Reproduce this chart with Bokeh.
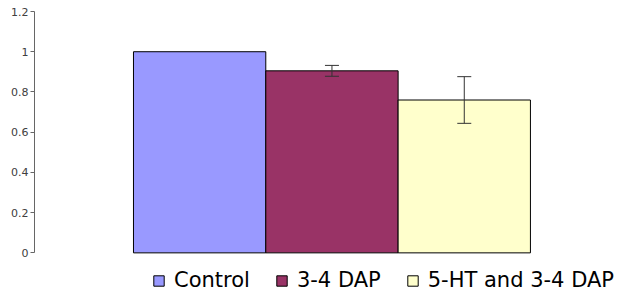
from bokeh.plotting import figure
from bokeh.models import (Range1d, FixedTicker, ColumnDataSource, Whisker, TeeHead,
                          Legend, LegendItem)
from bokeh.embed import file_html
from bokeh.resources import INLINE

categories = ["Control", "3-4 DAP", "5-HT and 3-4 DAP"]
means = [1.0, 0.905, 0.76]
errors = [0.0, 0.027, 0.116]
colors = ["#9999FF", "#993366", "#FFFFCC"]
y_ticks = [0, 0.2, 0.4, 0.6, 0.8, 1, 1.2]
y_tick_labels = ["0", "0.2", "0.4", "0.6", "0.8", "1", "1.2"]

xs = list(range(len(categories)))
src = ColumnDataSource(dict(x=xs, top=means, color=colors, label=categories))

ex = [x for x, e in zip(xs, errors) if e > 0]
eu = [m + e for m, e in zip(means, errors) if e > 0]
el = [m - e for m, e in zip(means, errors) if e > 0]
err_src = ColumnDataSource(dict(x=ex, upper=eu, lower=el))

# frame extends below zero to leave room for the legend under the bars
p = figure(width=617, height=293, output_backend="svg", toolbar_location=None,
           x_range=Range1d(-1.248, 3.158), y_range=Range1d(-0.202, 1.2),
           x_axis_location=None,
           min_border_left=34, min_border_right=0, min_border_top=11,
           min_border_bottom=0)
p.outline_line_color = None
p.xgrid.visible = False
p.ygrid.visible = False

r = p.vbar(x="x", top="top", bottom=0, width=1, fill_color="color",
           line_color="black", line_width=1, source=src)

w = Whisker(source=err_src, base="x", upper="upper", lower="lower",
            dimension="height", line_color="#333333", line_width=1,
            upper_head=TeeHead(size=14, line_color="#333333", line_width=1),
            lower_head=TeeHead(size=14, line_color="#333333", line_width=1))
w.level = "annotation"
p.add_layout(w)

ax = p.yaxis[0]
ax.ticker = FixedTicker(ticks=y_ticks)
ax.bounds = (0, 1.2)
ax.major_label_overrides = dict(zip(y_ticks, y_tick_labels))
ax.minor_tick_line_color = None
ax.major_tick_in = 0
ax.major_tick_out = 4
ax.major_label_standoff = 2
ax.axis_line_color = "#666666"
ax.major_tick_line_color = "#666666"
ax.major_label_text_font = "DejaVu Sans"
ax.major_label_text_font_size = "11px"
ax.major_label_text_color = "#404040"

items = [LegendItem(label=c, renderers=[r], index=i) for i, c in enumerate(categories)]
legend = Legend(items=items, orientation="horizontal", location=(118, 1),
                padding=0, margin=0, spacing=25, glyph_width=13, glyph_height=13,
                label_standoff=9, label_text_font="DejaVu Sans",
                label_text_font_size="21px", label_text_color="black",
                background_fill_alpha=0, border_line_alpha=0)
p.add_layout(legend)

open("out.html", "w").write(file_html(p, INLINE))
